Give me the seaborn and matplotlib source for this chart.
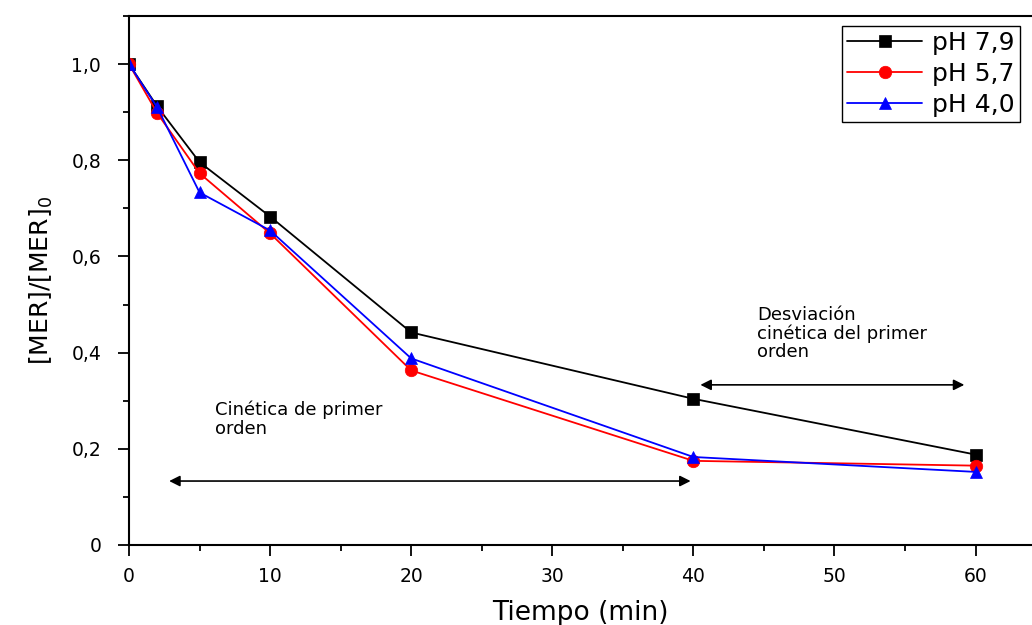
import pandas as pd
import matplotlib
matplotlib.use("Agg")
import matplotlib.pyplot as plt
import seaborn as sns
from matplotlib.ticker import FuncFormatter, MultipleLocator

# Tiempo (min) y fracción remanente de MER para cada pH
tiempo = [0, 2, 5, 10, 20, 40, 60]
ph_79 = [1.00, 0.912, 0.796, 0.683, 0.442, 0.304, 0.188]
ph_57 = [1.00, 0.898, 0.773, 0.648, 0.363, 0.175, 0.165]
ph_40 = [1.00, 0.910, 0.733, 0.654, 0.388, 0.183, 0.152]

series = ["pH 7,9", "pH 5,7", "pH 4,0"]
colores = ["black", "red", "blue"]
marcadores = ["s", "o", "^"]

# tramos de las flechas (min) y su altura
tramo_primer_orden = [2.65, 40.0]
altura_primer_orden = 0.133
tramo_desviacion = [40.3, 59.4]
altura_desviacion = 0.333

df = pd.DataFrame({"Tiempo": tiempo * 3,
                   "MER": ph_79 + ph_57 + ph_40,
                   "pH": [s for s in series for _ in tiempo]})

sns.set_style("ticks")
plt.rcParams["font.family"] = ["DejaVu Sans"]
plt.rcParams["text.color"] = "black"
plt.rcParams["axes.labelcolor"] = "black"
plt.rcParams["xtick.color"] = "black"
plt.rcParams["ytick.color"] = "black"

fig = plt.figure(figsize=(10.32, 6.25), dpi=100)
ax = fig.add_axes([129 / 1032, 80 / 625, (1032 - 129) / 1032, (545 - 16) / 625])

for nombre, color, marca in zip(series, colores, marcadores):
    sub = df[df["pH"] == nombre]
    sns.lineplot(data=sub, x="Tiempo", y="MER", ax=ax, color=color, marker=marca,
                 markersize=9, markeredgecolor=color, markeredgewidth=0.5,
                 linewidth=1.3, label=nombre)

ax.set_xlim(0, 64)
ax.set_ylim(0, 1.1)
ax.xaxis.set_major_locator(MultipleLocator(10))
ax.xaxis.set_minor_locator(MultipleLocator(5))
ax.yaxis.set_major_locator(MultipleLocator(0.2))
ax.yaxis.set_minor_locator(MultipleLocator(0.1))
ax.yaxis.set_major_formatter(FuncFormatter(
    lambda v, p: "0" if abs(v) < 1e-9 else f"{v:.1f}".replace(".", ",")))
ax.tick_params(which="major", direction="out", length=8, width=1.3,
               labelsize=13.5, color="black", labelcolor="black")
ax.tick_params(axis="x", which="major", pad=8)
ax.tick_params(axis="y", which="major", pad=12)
ax.tick_params(which="minor", direction="out", length=4.5, width=1.3, color="black")

for lado in ["left", "bottom", "top"]:
    ax.spines[lado].set_linewidth(1.5)
    ax.spines[lado].set_color("black")
ax.spines["right"].set_visible(False)

ax.set_xlabel("Tiempo (min)", fontsize=19, labelpad=10)
ax.set_ylabel(r"[MER]/[MER]$_\mathregular{0}$", fontsize=18, labelpad=12)

ax.annotate("", xy=(tramo_primer_orden[0], altura_primer_orden),
            xytext=(tramo_primer_orden[1], altura_primer_orden),
            arrowprops=dict(arrowstyle="<|-|>", color="black", lw=1.2, mutation_scale=16))
ax.annotate("", xy=(tramo_desviacion[0], altura_desviacion),
            xytext=(tramo_desviacion[1], altura_desviacion),
            arrowprops=dict(arrowstyle="<|-|>", color="black", lw=1.2, mutation_scale=16))

ax.text(6.1, 0.30, "Cinética de primer\norden", fontsize=13, ha="left", va="top",
        linespacing=1.05)
ax.text(44.5, 0.498, "Desviación\ncinética del primer\norden", fontsize=13,
        ha="left", va="top", linespacing=1.05)

leg = ax.legend(loc="upper right", bbox_to_anchor=(1020 / 1032, 1 - 26 / 625),
                bbox_transform=fig.transFigure, borderaxespad=0, fontsize=18,
                frameon=True, fancybox=False, framealpha=1, edgecolor="black",
                handlelength=3.0, handletextpad=0.4, labelspacing=0.28, borderpad=0.2)
leg.get_frame().set_linewidth(1.0)

fig.savefig("out.png", dpi=100, facecolor="white")
